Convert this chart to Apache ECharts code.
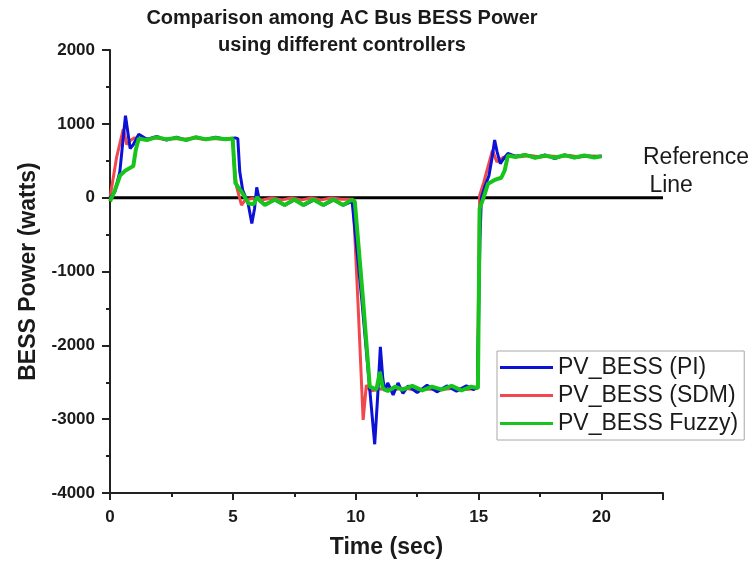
<!DOCTYPE html>
<html>
<head>
<meta charset="utf-8">
<script src="https://cdn.jsdelivr.net/npm/echarts@6/dist/echarts.min.js"></script>
<style>html,body{margin:0;padding:0;background:#fff}#c{width:750px;height:568px}</style>
</head>
<body>
<div id="c"></div>
<script>
// ---- data (time in s, power in W) ----
var tPI = [0, 0.2, 0.4, 0.55, 0.63, 0.72, 0.82, 0.95, 1.17, 1.5, 1.9, 2.3, 2.7, 3.1, 3.5, 3.9, 4.3, 4.7, 5.1, 5.2, 5.28, 5.4, 5.5, 5.62, 5.77, 5.88, 5.97, 6.08, 6.3, 6.7, 7.1, 7.5, 7.9, 8.3, 8.7, 9.1, 9.5, 9.85, 9.92, 10.25, 10.57, 10.77, 10.88, 11.0, 11.1, 11.18, 11.3, 11.52, 11.72, 11.92, 12.13, 12.5, 12.9, 13.3, 13.7, 14.1, 14.5, 14.8, 14.95, 15.05, 15.11, 15.25, 15.42, 15.55, 15.65, 15.75, 15.88, 16.0, 16.19, 16.5, 16.9, 17.3, 17.7, 18.1, 18.5, 18.9, 19.3, 19.7, 20.0];
var vPI = [0, 80, 350, 850, 1110, 900, 665, 720, 860, 790, 830, 780, 820, 780, 820, 790, 820, 790, 810, 800, 350, 100, 20, -80, -350, -150, 140, -40, -90, -30, -100, -30, -100, -30, -100, -30, -100, -50, -60, -1400, -2600, -3340, -2750, -2020, -2450, -2620, -2510, -2670, -2510, -2650, -2550, -2640, -2540, -2630, -2550, -2620, -2550, -2600, -2560, -600, 0, 150, 300, 550, 780, 620, 460, 520, 600, 560, 580, 540, 580, 530, 580, 540, 570, 550, 560];

var tSDM = [0, 0.27, 0.54, 0.6, 0.68, 0.85, 1.0, 1.4, 1.8, 2.2, 2.6, 3.0, 3.4, 3.8, 4.2, 4.6, 5.0, 5.05, 5.15, 5.35, 5.5, 5.8, 6.2, 6.6, 7.0, 7.4, 7.8, 8.2, 8.6, 9.0, 9.4, 9.89, 10.1, 10.3, 10.43, 10.6, 11.0, 11.5, 12.0, 12.5, 13.0, 13.5, 14.0, 14.5, 14.95, 15.04, 15.2, 15.38, 15.56, 15.74, 15.99, 16.3, 16.7, 17.1, 17.5, 17.9, 18.3, 18.7, 19.1, 19.5, 20.0];
var vSDM = [0, 550, 930, 850, 720, 780, 810, 790, 810, 790, 800, 790, 810, 790, 800, 790, 800, 450, 150, -100, -30, -10, -30, -5, -30, -5, -30, -5, -30, -5, -20, -20, -1500, -3010, -2540, -2620, -2590, -2600, -2580, -2610, -2590, -2600, -2580, -2600, -2580, 30, 200, 420, 640, 485, 545, 570, 555, 570, 550, 565, 555, 570, 550, 565, 560];

var tFuzzy = [0, 0.2, 0.41, 0.6, 0.8, 0.95, 1.05, 1.17, 1.5, 1.9, 2.3, 2.7, 3.1, 3.5, 3.9, 4.3, 4.7, 4.99, 5.1, 5.2, 5.35, 5.5, 5.64, 5.85, 5.98, 6.1, 6.3, 6.71, 7.11, 7.5, 7.86, 8.27, 8.67, 9.08, 9.48, 9.83, 9.96, 10.3, 10.57, 10.84, 10.98, 11.1, 11.3, 11.6, 11.9, 12.3, 12.7, 13.1, 13.5, 13.9, 14.3, 14.7, 14.97, 15.04, 15.2, 15.38, 15.65, 15.92, 16.06, 16.19, 16.5, 16.9, 17.3, 17.7, 18.1, 18.5, 18.9, 19.3, 19.7, 20.0];
var vFuzzy = [-50, 100, 300, 360, 400, 430, 650, 800, 780, 820, 790, 810, 780, 820, 790, 810, 790, 800, 200, 150, 80, 0, -80, -90, 10, -40, -100, -25, -100, -25, -100, -25, -100, -25, -100, -30, -50, -1400, -2560, -2600, -2360, -2580, -2620, -2560, -2600, -2550, -2610, -2560, -2600, -2550, -2610, -2560, -2580, -146, 0, 190, 240, 270, 370, 570, 550, 580, 540, 570, 540, 575, 545, 570, 545, 560];

var refT = [0, 22.5];
var refV = [0, 0];

var seriesNames = ['PV_BESS (PI)', 'PV_BESS (SDM)', 'PV_BESS Fuzzy)'];

function zip(a, b) { return a.map(function (t, i) { return [t, b[i]]; }); }

var FONT = '"Liberation Sans", Arial, sans-serif';
var chart = echarts.init(document.getElementById('c'), null, { renderer: 'canvas' });
chart.setOption({
  animation: false,
  backgroundColor: '#ffffff',
  title: {
    text: 'Comparison among AC Bus BESS Power\nusing different controllers',
    left: 342, top: 5, textAlign: 'center', padding: 0,
    textStyle: { fontFamily: FONT, fontWeight: 'bold', fontSize: 20, lineHeight: 27, color: '#1a1a1a' }
  },
  grid: { left: 110, right: 87, top: 50, bottom: 75, containLabel: false },
  legend: {
    orient: 'vertical', left: 497, top: 351,
    data: seriesNames,
    icon: 'rect',
    itemWidth: 53, itemHeight: 3, itemGap: 5,
    padding: [5, 6, 5, 3],
    borderColor: '#a8a8a8', borderWidth: 1, backgroundColor: '#fff',
    textStyle: { fontFamily: FONT, fontSize: 23, lineHeight: 23, color: '#1a1a1a' }
  },
  xAxis: {
    type: 'value', min: 0, max: 22.5, interval: 5,
    name: 'Time (sec)', nameLocation: 'middle', nameGap: 43,
    nameTextStyle: { fontFamily: FONT, fontWeight: 'bold', fontSize: 23, color: '#1a1a1a' },
    axisLine: { show: true, onZero: false, lineStyle: { color: '#222', width: 2 } },
    axisTick: { show: true, length: 7, inside: false, lineStyle: { color: '#222', width: 2 } },
    minorTick: { show: true, splitNumber: 2, length: 4, lineStyle: { color: '#222', width: 2 } },
    axisLabel: { showMaxLabel: false, margin: 16, fontFamily: FONT, fontWeight: 'bold', fontSize: 17, color: '#1a1a1a' },
    splitLine: { show: false }
  },
  yAxis: {
    type: 'value', min: -4000, max: 2000, interval: 1000,
    name: 'BESS Power (watts)', nameLocation: 'middle', nameGap: 67, nameRotate: 90,
    nameTextStyle: { fontFamily: FONT, fontWeight: 'bold', fontSize: 23, color: '#1a1a1a' },
    axisLine: { show: true, onZero: false, lineStyle: { color: '#222', width: 2 } },
    axisTick: { show: true, length: 8, inside: false, lineStyle: { color: '#222', width: 2 } },
    minorTick: { show: true, splitNumber: 2, length: 4, lineStyle: { color: '#222', width: 2 } },
    axisLabel: { margin: 15, fontFamily: FONT, fontWeight: 'bold', fontSize: 17, color: '#1a1a1a',
      formatter: function (v) { return String(v); } },
    splitLine: { show: false }
  },
  graphic: [{
    type: 'text', left: 643, top: 144,
    style: { text: 'Reference\n Line', fontFamily: FONT, fontSize: 23, lineHeight: 28, fill: '#1a1a1a' }
  }],
  series: [
    { name: 'Reference', type: 'line', data: zip(refT, refV), showSymbol: false, symbol: 'none',
      lineStyle: { color: '#000', width: 3 }, z: 1, silent: true },
    { name: seriesNames[1], type: 'line', data: zip(tSDM, vSDM), symbol: 'none',
      color: '#f2474c', lineStyle: { color: '#f2474c', width: 3 }, z: 2 },
    { name: seriesNames[0], type: 'line', data: zip(tPI, vPI), symbol: 'none',
      color: '#0b12d6', lineStyle: { color: '#0b12d6', width: 3 }, z: 3 },
    { name: seriesNames[2], type: 'line', data: zip(tFuzzy, vFuzzy), symbol: 'none',
      color: '#17c41c', lineStyle: { color: '#17c41c', width: 4 }, z: 4 }
  ]
});
</script>
</body>
</html>
